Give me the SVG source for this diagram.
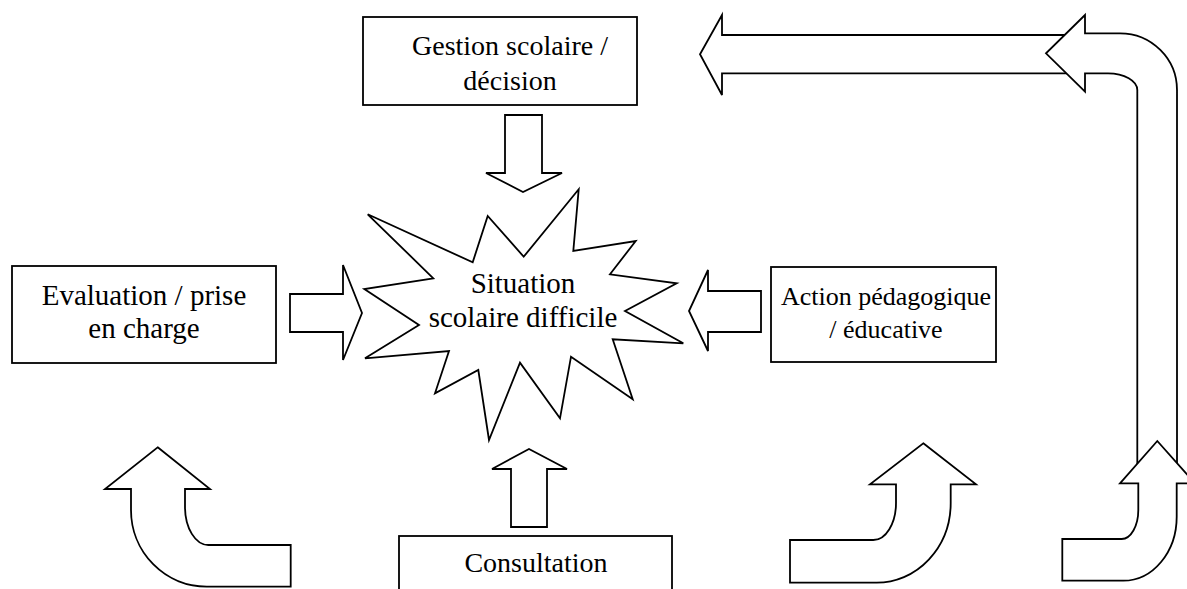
<svg xmlns="http://www.w3.org/2000/svg" width="1187" height="589" viewBox="0 0 1187 589">
<style>
.s{fill:#fff;stroke:#000;stroke-width:1.8;stroke-linejoin:miter}
.t{font-family:"Liberation Serif","Times New Roman",serif;font-size:28px;fill:#000;text-anchor:middle}
</style>
<rect width="1187" height="589" fill="#fff"/>
<g id="connectors">
<path class="s" d="M505,115 H542 V173 H562 L523,192 L486,173 H505 Z"/>
<path class="s" d="M290,294 H343 V265 L362,313 L343,360 V332 H290 Z"/>
<path class="s" d="M761,291 H708 V270 L689,311 L708,351 V332 H761 Z"/>
<path class="s" d="M511,527 V469 H492 L529,449 L567,469 H547 V527 Z"/>
<path class="s" d="M1080,35 H722 V15 L700,54.3 L722,95 V73.3 H1080"/>
<path class="s" d="M1085,15 L1046,53.3 L1085,91.7 V73.3 H1108 A29.3,16.7 0 0 1 1137.3,90 V480 H1177 V90 A57,56.7 0 0 0 1120,33.3 H1085 Z"/>
<path class="s" d="M157.7,447.3 L210,489 H185 V507 A23.3,38 0 0 0 208.3,545 H290.7 V586.7 H206.7 A75.7,76.7 0 0 1 131,510 V489 H105 Z"/>
<path class="s" d="M923.3,443.3 L976,484.3 H950.7 V503 A74,79.7 0 0 1 876.7,582.7 H790 V540 H873.3 A22.7,37 0 0 0 896,503 V484.3 H870 Z"/>
<path class="s" d="M1157.3,441 L1195,483.3 H1176.7 V516.7 A53.4,64 0 0 1 1123.3,580.7 H1062.3 V539 H1121.7 A16.6,29 0 0 0 1138.3,510 V483.3 H1120 Z"/>
</g>
<g id="gestion">
<rect class="s" x="363" y="17" width="274" height="88"/>
<text class="t" x="510" y="55">Gestion scolaire /</text>
<text class="t" x="510" y="90">décision</text>
</g>
<g id="situation">
<polygon class="s" points="367.7,214.3 472.7,262.3 487.7,216 523.7,256.7 578.7,189.3 573.3,251 635.7,241 610,274.3 676.7,283.3 625,311 683.3,343.3 612.7,339.3 632.7,399.3 571,356.7 560,418.3 520,362.7 489,440 478.3,370 435,393.3 449,351 365,358.3 419,325 364.3,289 433.3,278.3"/>
<text class="t" x="523" y="293" style="font-size:29px">Situation</text>
<text class="t" x="523" y="327" style="font-size:29px">scolaire difficile</text>
</g>
<g id="evaluation">
<rect class="s" x="12" y="266" width="264" height="97"/>
<text class="t" x="144" y="305" style="font-size:29px">Evaluation / prise</text>
<text class="t" x="144" y="338" style="font-size:29px">en charge</text>
</g>
<g id="action">
<rect class="s" x="771" y="267" width="225" height="95"/>
<text class="t" x="886" y="305" style="font-size:26px">Action pédagogique</text>
<text class="t" x="886" y="338" style="font-size:26px">/ éducative</text>
</g>
<g id="consultation">
<rect class="s" x="399" y="536" width="273" height="60"/>
<text class="t" x="536" y="572">Consultation</text>
</g>
</svg>
